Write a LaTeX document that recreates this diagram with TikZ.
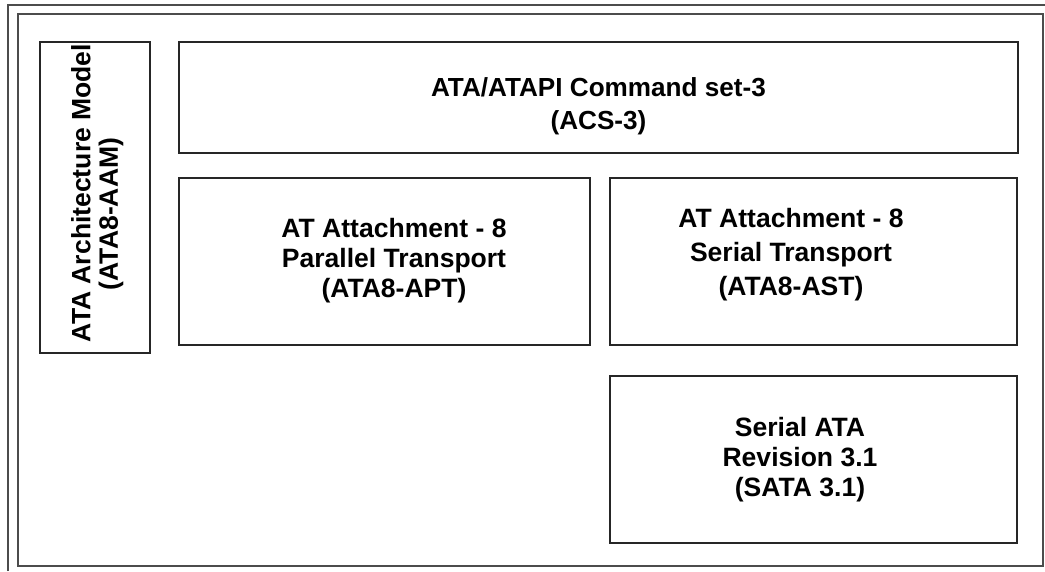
\documentclass[tikz,border=0pt]{standalone}
\usepackage{fontspec}
\setmainfont{Liberation Sans}
\begin{document}
\begin{tikzpicture}[x=0.75pt,y=-0.75pt,
  frame/.style={draw=black!70, line width=1.1pt},
  box/.style={draw=black!85, line width=1.1pt},
  lbl/.style={font=\bfseries\fontsize{19.9}{22.5}\selectfont, align=center, inner sep=0pt},
]
\useasboundingbox (0,0) rectangle (1045,571);
% outer partial frame
\coordinate (o1) at (8,571);
\coordinate (o2) at (8,5);
\coordinate (o3) at (1045,5);
\draw[frame] (o1) -- (o2) -- (o3);
% inner frame
\draw[frame] (18,14) rectangle (1043,566);
% boxes
\draw[box] (40,42) rectangle (150,353);
\draw[box] (179,42) rectangle (1018,153);
\draw[box] (179,178) rectangle (590,345);
\draw[box] (610,178) rectangle (1017,345);
\draw[box] (610,376) rectangle (1017,543);
% labels
\node[lbl, rotate=90] (aam1) at (81,193) {ATA Architecture Model};
\node[lbl, rotate=90] (aam2) at (111,214) {(ATA8-AAM)};
\node[lbl, font=\bfseries\fontsize{19.6}{24.75}\selectfont] (acs) at (598.5,106) {ATA/ATAPI Command set-3\\(ACS-3)};
\node[lbl] (apt) at (394,261) {AT Attachment - 8\\Parallel Transport\\(ATA8-APT)};
\node[lbl, font=\bfseries\fontsize{19.9}{25.5}\selectfont] (ast) at (791,255) {AT Attachment - 8\\Serial Transport\\(ATA8-AST)};
\node[lbl] (sata) at (800,460) {Serial ATA\\Revision 3.1\\(SATA 3.1)};
\end{tikzpicture}
\end{document}
